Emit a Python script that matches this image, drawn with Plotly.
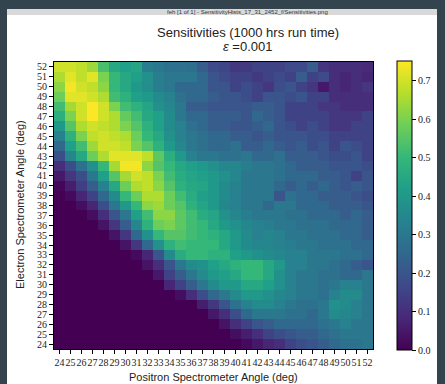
import plotly.graph_objects as go

# ---------------- data ----------------
positron_angles = list(range(24, 53))          # x axis (deg)
electron_angles = list(range(52, 23, -1))      # y axis (deg), rows listed top -> bottom
colorbar_ticks = [0.0, 0.1, 0.2, 0.3, 0.4, 0.5, 0.6, 0.7]
title_line1 = "Sensitivities (1000 hrs run time)"
title_line2 = "<i>ε</i> =0.001"

sensitivity = [
    [0.70,0.70,0.68,0.64,0.53,0.45,0.42,0.44,0.32,0.30,0.28,0.28,0.27,0.22,0.17,0.16,0.12,0.13,0.15,0.15,0.15,0.17,0.17,0.22,0.12,0.10,0.10,0.10,0.09],  # 52
    [0.66,0.72,0.68,0.72,0.60,0.50,0.45,0.42,0.38,0.32,0.30,0.30,0.30,0.25,0.20,0.17,0.15,0.15,0.13,0.15,0.17,0.15,0.22,0.15,0.17,0.10,0.08,0.10,0.08],  # 51
    [0.62,0.74,0.70,0.68,0.62,0.50,0.45,0.40,0.37,0.32,0.30,0.25,0.25,0.25,0.20,0.20,0.15,0.18,0.15,0.12,0.18,0.20,0.15,0.12,0.05,0.10,0.08,0.10,0.12],  # 50
    [0.58,0.72,0.72,0.70,0.66,0.52,0.48,0.42,0.40,0.36,0.33,0.28,0.25,0.25,0.22,0.20,0.20,0.18,0.15,0.20,0.20,0.18,0.20,0.15,0.15,0.10,0.10,0.10,0.10],  # 49
    [0.52,0.65,0.70,0.75,0.70,0.60,0.52,0.48,0.44,0.38,0.35,0.30,0.22,0.22,0.20,0.20,0.20,0.20,0.22,0.22,0.20,0.15,0.15,0.15,0.12,0.12,0.10,0.10,0.10],  # 48
    [0.47,0.60,0.70,0.76,0.70,0.66,0.57,0.52,0.45,0.42,0.36,0.30,0.25,0.25,0.22,0.22,0.22,0.20,0.25,0.22,0.20,0.15,0.15,0.15,0.15,0.12,0.12,0.12,0.15],  # 47
    [0.40,0.55,0.66,0.70,0.68,0.66,0.60,0.55,0.48,0.42,0.36,0.33,0.28,0.25,0.22,0.22,0.20,0.20,0.22,0.25,0.20,0.18,0.15,0.18,0.15,0.12,0.12,0.15,0.15],  # 46
    [0.33,0.48,0.60,0.68,0.70,0.68,0.66,0.58,0.50,0.45,0.38,0.33,0.30,0.28,0.25,0.25,0.22,0.22,0.20,0.22,0.20,0.20,0.20,0.18,0.18,0.15,0.15,0.15,0.15],  # 45
    [0.25,0.42,0.52,0.64,0.70,0.70,0.68,0.60,0.55,0.48,0.40,0.35,0.30,0.28,0.25,0.25,0.28,0.22,0.22,0.25,0.22,0.20,0.22,0.18,0.20,0.15,0.20,0.18,0.15],  # 44
    [0.18,0.35,0.45,0.58,0.66,0.72,0.72,0.72,0.68,0.56,0.47,0.40,0.33,0.30,0.30,0.28,0.28,0.30,0.25,0.25,0.28,0.22,0.22,0.22,0.20,0.18,0.18,0.20,0.15],  # 43
    [0.10,0.18,0.28,0.38,0.50,0.65,0.74,0.74,0.62,0.55,0.50,0.45,0.42,0.40,0.38,0.35,0.35,0.32,0.30,0.30,0.28,0.25,0.22,0.22,0.22,0.20,0.20,0.20,0.18],  # 42
    [0.05,0.12,0.18,0.30,0.42,0.55,0.65,0.70,0.68,0.60,0.52,0.46,0.44,0.42,0.40,0.38,0.35,0.30,0.30,0.30,0.28,0.25,0.25,0.25,0.22,0.22,0.20,0.15,0.20],  # 41
    [0.01,0.06,0.14,0.22,0.33,0.45,0.58,0.66,0.68,0.62,0.55,0.48,0.45,0.44,0.40,0.36,0.33,0.30,0.30,0.30,0.25,0.22,0.25,0.22,0.25,0.22,0.20,0.22,0.20],  # 40
    [0.00,0.02,0.08,0.15,0.25,0.36,0.50,0.58,0.66,0.66,0.58,0.52,0.46,0.42,0.40,0.36,0.33,0.30,0.30,0.30,0.20,0.28,0.25,0.25,0.22,0.22,0.22,0.20,0.18],  # 39
    [0.00,0.00,0.03,0.08,0.18,0.30,0.40,0.50,0.62,0.64,0.58,0.55,0.48,0.44,0.40,0.35,0.33,0.30,0.30,0.25,0.30,0.30,0.25,0.25,0.25,0.22,0.22,0.22,0.20],  # 38
    [0.00,0.00,0.00,0.03,0.10,0.20,0.30,0.42,0.52,0.62,0.62,0.56,0.52,0.46,0.44,0.38,0.35,0.32,0.30,0.30,0.30,0.28,0.28,0.25,0.25,0.25,0.22,0.25,0.22],  # 37
    [0.00,0.00,0.00,0.00,0.04,0.12,0.22,0.35,0.48,0.58,0.60,0.56,0.52,0.50,0.45,0.40,0.38,0.35,0.33,0.32,0.30,0.30,0.28,0.28,0.28,0.25,0.25,0.25,0.22],  # 36
    [0.00,0.00,0.00,0.00,0.00,0.04,0.12,0.25,0.38,0.50,0.55,0.55,0.52,0.50,0.48,0.45,0.40,0.36,0.33,0.35,0.33,0.30,0.30,0.28,0.28,0.28,0.25,0.25,0.22],  # 35
    [0.00,0.00,0.00,0.00,0.00,0.00,0.04,0.12,0.25,0.38,0.48,0.52,0.50,0.50,0.50,0.45,0.40,0.36,0.35,0.35,0.33,0.32,0.30,0.30,0.28,0.28,0.28,0.25,0.25],  # 34
    [0.00,0.00,0.00,0.00,0.00,0.00,0.00,0.02,0.08,0.20,0.36,0.46,0.50,0.50,0.48,0.48,0.42,0.40,0.38,0.36,0.35,0.33,0.33,0.30,0.30,0.30,0.28,0.28,0.25],  # 33
    [0.00,0.00,0.00,0.00,0.00,0.00,0.00,0.00,0.04,0.10,0.20,0.30,0.36,0.38,0.42,0.45,0.48,0.50,0.50,0.45,0.40,0.33,0.33,0.30,0.30,0.28,0.25,0.22,0.20],  # 32
    [0.00,0.00,0.00,0.00,0.00,0.00,0.00,0.00,0.00,0.05,0.15,0.22,0.30,0.36,0.40,0.42,0.45,0.50,0.50,0.45,0.38,0.33,0.30,0.30,0.28,0.28,0.25,0.25,0.30],  # 31
    [0.00,0.00,0.00,0.00,0.00,0.00,0.00,0.00,0.00,0.00,0.08,0.15,0.22,0.30,0.36,0.40,0.40,0.45,0.45,0.42,0.38,0.33,0.30,0.30,0.28,0.30,0.33,0.33,0.30],  # 30
    [0.00,0.00,0.00,0.00,0.00,0.00,0.00,0.00,0.00,0.00,0.00,0.03,0.10,0.18,0.25,0.30,0.36,0.40,0.40,0.38,0.35,0.33,0.30,0.30,0.28,0.33,0.36,0.36,0.30],  # 29
    [0.00,0.00,0.00,0.00,0.00,0.00,0.00,0.00,0.00,0.00,0.00,0.00,0.00,0.06,0.12,0.20,0.28,0.33,0.36,0.36,0.33,0.30,0.28,0.28,0.30,0.38,0.36,0.33,0.30],  # 28
    [0.00,0.00,0.00,0.00,0.00,0.00,0.00,0.00,0.00,0.00,0.00,0.00,0.00,0.00,0.05,0.10,0.18,0.25,0.30,0.30,0.30,0.28,0.28,0.25,0.30,0.36,0.35,0.33,0.30],  # 27
    [0.00,0.00,0.00,0.00,0.00,0.00,0.00,0.00,0.00,0.00,0.00,0.00,0.00,0.00,0.00,0.04,0.10,0.15,0.20,0.22,0.25,0.25,0.25,0.25,0.28,0.30,0.33,0.30,0.30],  # 26
    [0.00,0.00,0.00,0.00,0.00,0.00,0.00,0.00,0.00,0.00,0.00,0.00,0.00,0.00,0.00,0.00,0.03,0.06,0.10,0.15,0.18,0.20,0.22,0.22,0.25,0.28,0.30,0.30,0.30],  # 25
    [0.00,0.00,0.00,0.00,0.00,0.00,0.00,0.00,0.00,0.00,0.00,0.00,0.00,0.00,0.00,0.00,0.00,0.02,0.05,0.08,0.10,0.15,0.18,0.20,0.22,0.25,0.28,0.28,0.30],  # 24
]
assert len(sensitivity) == 29 and all(len(r) == 29 for r in sensitivity)

# ---------------- layout helpers ----------------
W, H = 445, 384
L, R, T, B = 54, 373, 62, 349


def px_x(px):
    return (px - L) / (R - L)


def px_y(py):
    return 1 - (py - T) / (B - T)


serif = "Liberation Serif, DejaVu Serif, serif"
sans = "Liberation Sans, DejaVu Sans, sans-serif"

fig = go.Figure(
    go.Heatmap(
        x=positron_angles,
        y=electron_angles,
        z=sensitivity,
        colorscale="Viridis",
        zmin=0.0,
        zmax=0.752,
        colorbar=dict(
            x=px_x(397), xanchor="left",
            y=px_y(61), yanchor="top",
            len=(350 - 61) / (B - T), lenmode="fraction",
            thickness=15, thicknessmode="pixels",
            outlinecolor="black", outlinewidth=1,
            ticks="outside", ticklen=4, tickcolor="black",
            tickvals=colorbar_ticks,
            ticktext=[f"{v:.1f}" for v in colorbar_ticks],
            tickfont=dict(family=serif, size=10, color="#222"),
            xpad=0, ypad=0,
        ),
        hoverongaps=False,
    )
)

axis_common = dict(
    showgrid=False, zeroline=False,
    showline=True, linecolor="black", linewidth=1, mirror=True,
    ticks="outside", ticklen=4, tickcolor="black", tickwidth=1,
    tickfont=dict(family=serif, size=10, color="#222"),
)

fig.update_layout(
    width=W, height=H,
    margin=dict(l=L, r=W - R, t=T, b=H - B, pad=0),
    paper_bgcolor="#34444e",
    plot_bgcolor="white",
    showlegend=False,
    xaxis=dict(
        **axis_common,
        range=[23.5, 52.5],
        tickmode="array", tickvals=positron_angles,
        ticktext=[str(v) for v in positron_angles],
        tickangle=0,
    ),
    yaxis=dict(
        **axis_common,
        range=[23.5, 52.5],
        tickmode="array", tickvals=electron_angles,
        ticktext=[str(v) for v in electron_angles],
    ),
    shapes=[
        # white window content
        dict(type="rect", xref="paper", yref="paper", layer="below",
             x0=px_x(7), x1=px_x(437), y0=px_y(384), y1=px_y(15),
             fillcolor="white", line=dict(width=0)),
        # window title bar
        dict(type="rect", xref="paper", yref="paper", layer="below",
             x0=px_x(7), x1=px_x(437), y0=px_y(15), y1=px_y(9),
             fillcolor="#d9d9d9", line=dict(width=0)),
    ],
    annotations=[
        dict(text="feh [1 of 1] - SensitivityHists_17_31_2452_f/Sensitivities.png",
             xref="paper", yref="paper", x=px_x(248), y=px_y(12),
             showarrow=False, xanchor="center", yanchor="middle",
             font=dict(family=sans, size=6, color="#333")),
        dict(text=title_line1, xref="paper", yref="paper",
             x=px_x(248), y=px_y(33), showarrow=False,
             xanchor="center", yanchor="middle",
             font=dict(family=sans, size=13, color="#222")),
        dict(text=title_line2, xref="paper", yref="paper",
             x=px_x(248), y=px_y(46), showarrow=False,
             xanchor="center", yanchor="middle",
             font=dict(family=sans, size=13, color="#222")),
        dict(text="Positron Spectrometer Angle (deg)", xref="paper", yref="paper",
             x=px_x(214), y=px_y(377), showarrow=False,
             xanchor="center", yanchor="middle",
             font=dict(family=sans, size=11, color="#222")),
        dict(text="Electron Spectrometer Angle (deg)", xref="paper", yref="paper",
             x=px_x(20), y=px_y(205), showarrow=False, textangle=-90,
             xanchor="center", yanchor="middle",
             font=dict(family=sans, size=11, color="#222")),
    ],
)

fig.write_html(
    "out.html",
    config={"displayModeBar": False},
    post_script="document.body.style.margin='0';document.body.style.overflow='hidden';",
)
